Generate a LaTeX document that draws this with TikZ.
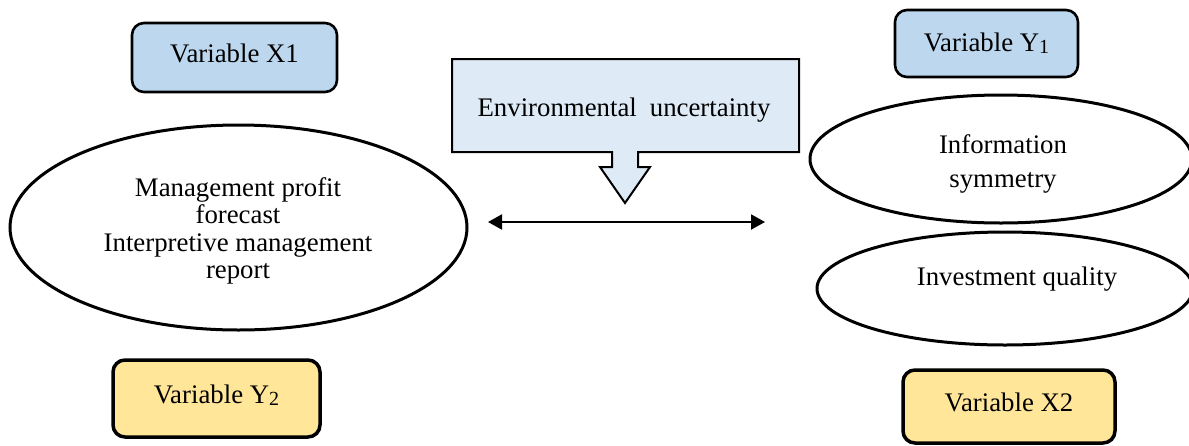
\documentclass[tikz,border=0pt]{standalone}
\usepackage{fontspec}
\setmainfont{Liberation Serif}
\usetikzlibrary{shapes.geometric,arrows.meta}
\definecolor{varblue}{HTML}{BDD7EE}
\definecolor{calblue}{HTML}{DEEBF7}
\definecolor{varyellow}{HTML}{FFE699}
\newcommand{\sbs}[1]{\raisebox{-2pt}{\fontsize{20}{21}\selectfont #1}}
\begin{document}
\begin{tikzpicture}[x=1pt,y=-1pt,
  font=\fontsize{26.8}{30}\selectfont,
  varbox/.style={draw,rounded corners=12pt,inner sep=0pt},
  bluebox/.style={varbox,fill=varblue,line width=2.6pt},
  yellowbox/.style={varbox,fill=varyellow,line width=3.5pt},
  lowtext/.style={text height=18.3pt,text depth=8.5pt},
  oval/.style={draw,ellipse,line width=3pt,inner sep=0pt},
  lbl/.style={inner sep=0pt,align=center}]
\useasboundingbox (0,0) rectangle (1189,445);
% variable boxes
\node[bluebox,lowtext,minimum width=205pt,minimum height=69pt] (x1) at (234.5,57.5) {Variable X1};
\node[bluebox,minimum width=183pt,minimum height=67pt] (y1) at (986.5,43.5) {Variable Y\sbs{1}};
\node[yellowbox,lowtext,minimum width=207pt,minimum height=77pt] (y2) at (216.5,398.5) {Variable Y\sbs{2}};
\node[yellowbox,lowtext,minimum width=212pt,minimum height=73pt] (x2) at (1009,406.5) {Variable X2};
% callout
\draw[fill=calblue,line width=2pt] (452,59) -- (799,59) -- (799,152) -- (638,152) -- (638,167)
  -- (650,167) -- (625,203) -- (600,167) -- (612,167) -- (612,152) -- (452,152) -- cycle;
\node[lbl] (env) at (624,110) {Environmental\hspace{13pt}uncertainty};
% ellipses
\node[oval,minimum width=457pt,minimum height=205pt] (mgmt) at (238.5,227.5) {};
\node[lbl,font=\fontsize{26.8}{27.5}\selectfont] (mgmttext) at (238,231)
  {Management profit\\forecast\\Interpretive management\\report};
\node[oval,minimum width=382pt,minimum height=128pt] (info) at (1001,159) {};
\node[lbl,font=\fontsize{26.8}{34}\selectfont] (infotext) at (1003,164) {Information\\symmetry};
\node[oval,minimum width=376pt,minimum height=113pt] (inv) at (1005,288.5) {};
\node[lbl] (invtext) at (1017,279) {Investment quality};
% double arrow
\coordinate (la) at (488,222);
\coordinate (ra) at (765,222);
\draw[{Triangle[length=14pt,width=15pt]}-{Triangle[length=14pt,width=15pt]},line width=2pt] (la) -- (ra);
\end{tikzpicture}
\end{document}
